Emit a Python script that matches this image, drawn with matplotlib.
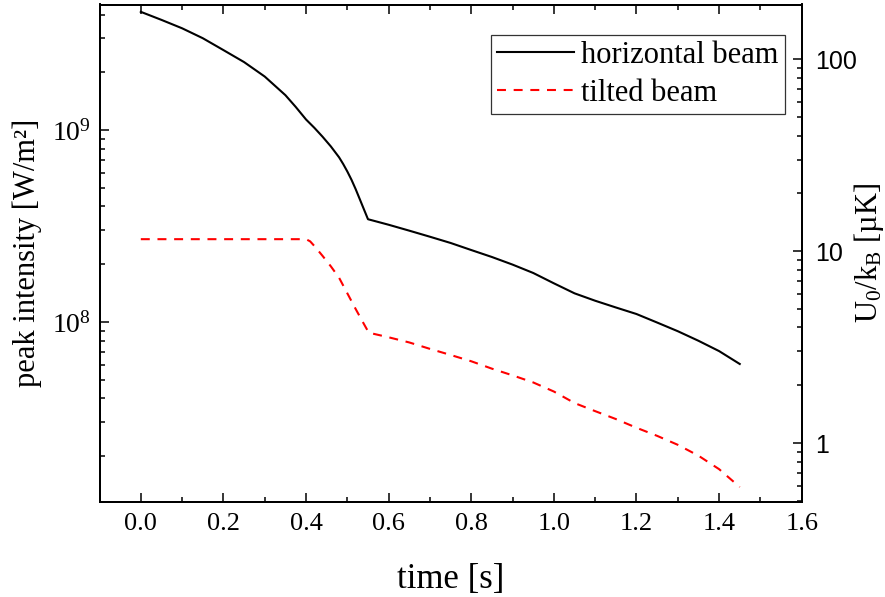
import matplotlib
matplotlib.use("Agg")
import matplotlib.pyplot as plt
from matplotlib.ticker import MultipleLocator, FormatStrFormatter, LogLocator, FuncFormatter, NullFormatter

plt.rcParams["font.family"] = ["Liberation Serif", "DejaVu Serif"]
plt.rcParams["mathtext.fontset"] = "custom"
plt.rcParams["mathtext.rm"] = "Liberation Serif"
plt.rcParams["mathtext.it"] = "Liberation Serif:italic"
plt.rcParams["mathtext.bf"] = "Liberation Serif:bold"

# horizontal beam: peak intensity [W/m^2] vs time [s]
t_horizontal = [0.00, 0.05, 0.10, 0.15, 0.20, 0.25, 0.30, 0.35, 0.375, 0.40,
                0.42, 0.44, 0.46, 0.48, 0.49, 0.50, 0.51, 0.52, 0.53, 0.54,
                0.55, 0.60, 0.65, 0.70, 0.75, 0.80, 0.85, 0.90, 0.95, 1.00,
                1.05, 1.10, 1.15, 1.20, 1.25, 1.30, 1.35, 1.40, 1.45]
i_horizontal = [4.13e9, 3.75e9, 3.39e9, 3.01e9, 2.61e9, 2.26e9, 1.90e9, 1.52e9, 1.32e9, 1.135e9,
                1.028e9, 9.23e8, 8.22e8, 7.21e8, 6.65e8, 6.08e8, 5.51e8, 4.93e8, 4.37e8, 3.87e8,
                3.43e8, 3.21e8, 2.99e8, 2.78e8, 2.58e8, 2.37e8, 2.18e8, 1.99e8, 1.80e8, 1.59e8,
                1.41e8, 1.29e8, 1.19e8, 1.10e8, 9.93e7, 8.95e7, 7.98e7, 7.05e7, 6.04e7]

# tilted beam
t_tilted = [0.00, 0.40, 0.41, 0.42, 0.44, 0.46, 0.48, 0.50, 0.52, 0.54,
            0.552, 0.60, 0.65, 0.70, 0.75, 0.80, 0.85, 0.90, 0.95, 1.00,
            1.05, 1.10, 1.15, 1.20, 1.25, 1.30, 1.35, 1.40, 1.45]
i_tilted = [2.70e8, 2.70e8, 2.63e8, 2.49e8, 2.21e8, 1.95e8, 1.70e8, 1.41e8, 1.17e8, 9.77e7,
            8.79e7, 8.32e7, 7.82e7, 7.24e7, 6.73e7, 6.24e7, 5.71e7, 5.27e7, 4.84e7, 4.34e7,
            3.78e7, 3.43e7, 3.12e7, 2.81e7, 2.55e7, 2.29e7, 2.01e7, 1.71e7, 1.38e7]

# conversion from peak intensity to trap depth U0/kB [uK]
intensity_per_uK = 2.34e7
intensity_limits = (1.16e7, 4.51e9)

fig = plt.figure(figsize=(8.85, 5.97), dpi=100)
ax = fig.add_axes([99.5 / 885, 1 - 501.5 / 597, (801.7 - 99.5) / 885, (501.5 - 4.5) / 597])

ax.plot(t_horizontal, i_horizontal, color="black", lw=1.5, label="horizontal beam")
ax.plot(t_tilted, i_tilted, color="red", lw=1.5, dashes=(4.3, 3.7), label="tilted beam")

ax.set_yscale("log")
ax.set_xlim(-0.1, 1.6)
ax.set_ylim(*intensity_limits)

ax.xaxis.set_major_locator(MultipleLocator(0.2))
ax.xaxis.set_minor_locator(MultipleLocator(0.1))
ax.xaxis.set_major_formatter(FormatStrFormatter("%.1f"))

ax.tick_params(which="both", direction="in", top=True, right=False, width=1.1)
ax.tick_params(which="major", length=6.5)
ax.tick_params(which="minor", length=3.6)
ax.tick_params(axis="x", labelsize=19, pad=8.5)
ax.tick_params(axis="y", labelsize=20, pad=6)
for s in ax.spines.values():
    s.set_linewidth(1.4)

ax.set_xlabel("time [s]", fontsize=25, labelpad=20)
ax.set_ylabel("peak intensity [W/m²]", fontsize=22, labelpad=7)

# secondary scale: trap depth
ax2 = ax.twinx()
ax2.set_yscale("log")
ax2.set_ylim(intensity_limits[0] / intensity_per_uK, intensity_limits[1] / intensity_per_uK)
ax2.yaxis.set_major_locator(LogLocator(base=10))
ax2.yaxis.set_minor_locator(LogLocator(base=10, subs=range(2, 10)))
ax2.yaxis.set_major_formatter(FuncFormatter(lambda v, p: f"{v:g}"))
ax2.yaxis.set_minor_formatter(NullFormatter())
ax2.tick_params(which="both", direction="in", width=1.1, labelsize=18, pad=9.5)
ax2.tick_params(which="major", length=6.5)
ax2.tick_params(which="minor", length=3.6)
for lbl in ax2.get_yticklabels():
    lbl.set_fontfamily("Liberation Sans")
for s in ax2.spines.values():
    s.set_linewidth(1.4)
ax2.set_ylabel(r"U$_0$/k$_\mathrm{B}$ [µK]", fontsize=22)
ax2.yaxis.set_label_coords((851.5 - 99.5) / 702.2, 0.5)

leg = ax.legend(loc="upper right", bbox_to_anchor=(0.976, 0.939), borderaxespad=0,
                fontsize=22, frameon=True, fancybox=False, handlelength=2.5,
                handletextpad=0.25, borderpad=0.2, labelspacing=0.3)
leg.get_frame().set_edgecolor("black")
leg.get_frame().set_linewidth(0.9)

fig.savefig("out.png", dpi=100)
